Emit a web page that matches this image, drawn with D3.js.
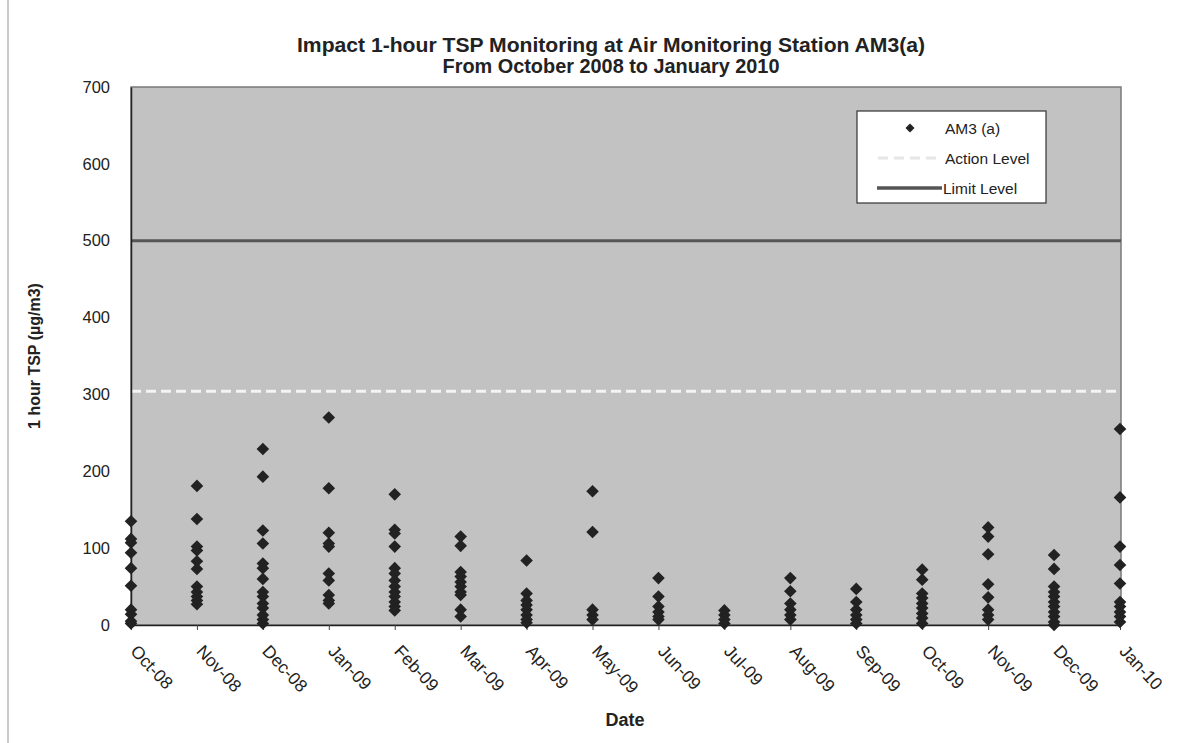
<!DOCTYPE html>
<html><head><meta charset="utf-8">
<script src="https://cdn.jsdelivr.net/npm/d3@7"></script>
<style>
html,body{margin:0;padding:0;background:#fff;}
svg{display:block;font-family:"Liberation Sans",Arial,sans-serif;}
</style></head>
<body>
<svg id="chart" width="1177" height="743"></svg>
<script>
const months = ["Oct-08","Nov-08","Dec-08","Jan-09","Feb-09","Mar-09","Apr-09","May-09","Jun-09","Jul-09","Aug-09","Sep-09","Oct-09","Nov-09","Dec-09","Jan-10"];
const readings = [
  [135,112,107,94,74,51,20,14,5,2],
  [181,138,102,97,83,73,50,43,37,32,27],
  [229,193,123,106,80,74,60,43,37,28,22,13,7,2],
  [270,178,120,106,102,67,58,39,32,28],
  [170,124,119,102,74,67,58,50,43,37,30,24,19],
  [115,103,69,63,56,50,43,39,20,11],
  [84,41,32,26,20,13,7,3],
  [174,121,20,13,7],
  [61,37,24,17,11,7],
  [19,13,7,2],
  [61,44,28,20,13,7],
  [47,30,20,13,7,2],
  [72,59,41,35,28,22,15,9,2],
  [127,115,92,53,36,20,13,7],
  [91,73,50,43,37,30,24,17,11,4,0],
  [255,166,102,78,54,30,24,17,11,4]
];
const yTicks = [0,100,200,300,400,500,600,700];
const actionLevel = 304;
const limitLevel = 500;
const titleLines = ["Impact 1-hour TSP Monitoring at Air Monitoring Station AM3(a)","From October 2008 to January 2010"];
const legendLabels = ["AM3 (a)","Action Level","Limit Level"];

const svg = d3.select("#chart");
const L = 131, R = 1121, T = 87, B = 625;

// page border line on left
svg.append("line").attr("x1",8).attr("x2",8).attr("y1",0).attr("y2",743).attr("stroke","#999").attr("stroke-width",1);

const x = d3.scalePoint().domain(months).range([L, R - 1]).padding(0);
const y = d3.scaleLinear().domain([0,700]).range([B, T]);

// plot area
svg.append("rect").attr("x",L).attr("y",T).attr("width",R-L).attr("height",B-T)
  .attr("fill","#c2c2c2").attr("stroke","#7a7a7a").attr("stroke-width",1.5);

// limit & action lines
svg.append("line").attr("x1",L).attr("x2",R).attr("y1",y(limitLevel)).attr("y2",y(limitLevel))
  .attr("stroke","#555").attr("stroke-width",3);
svg.append("line").attr("x1",L).attr("x2",R).attr("y1",y(actionLevel)).attr("y2",y(actionLevel))
  .attr("stroke","#f4f4f4").attr("stroke-width",3).attr("stroke-dasharray","10,5");

// y axis
const yAxis = svg.append("g").attr("transform",`translate(${L},0)`)
  .call(d3.axisLeft(y).tickValues(yTicks).tickSize(0).tickPadding(21).tickFormat(d3.format("d")));
yAxis.select(".domain").attr("stroke","#222").attr("stroke-width",1.5);
yAxis.selectAll("text").attr("font-size",16.5).attr("fill","#222");

// x axis
const xAxis = svg.append("g").attr("transform",`translate(0,${B})`)
  .call(d3.axisBottom(x).tickSize(5).tickSizeOuter(0));
xAxis.select(".domain").attr("stroke","#222").attr("stroke-width",1.5);
xAxis.selectAll(".tick line").attr("stroke","#444");
xAxis.selectAll("text").attr("font-size",17.5).attr("fill","#222")
  .attr("text-anchor","start").attr("dy",0).attr("y",0)
  .attr("transform","translate(-2,27) rotate(47)");

// points (square diamonds)
const pts = [];
readings.forEach((arr,i)=>arr.forEach(v=>pts.push({m:months[i],v})));
const dia = s => `M0,${-s}L${s},0L0,${s}L${-s},0Z`;
svg.append("g").selectAll("path").data(pts).join("path")
  .attr("d",dia(6.3)).attr("transform",d=>`translate(${x(d.m)},${y(d.v)})`)
  .attr("fill","#222");

// title
const titleWidths = [628, 337];
svg.append("g").selectAll("text").data(titleLines).join("text")
  .attr("x",611).attr("y",(d,i)=>52+i*21).attr("text-anchor","middle")
  .attr("font-size",20).attr("font-weight","bold").attr("fill","#222")
  .attr("textLength",(d,i)=>titleWidths[i]).attr("lengthAdjust","spacingAndGlyphs").text(d=>d);

// axis titles
svg.append("text").attr("transform","translate(40,356) rotate(-90)").attr("text-anchor","middle")
  .attr("font-size",16).attr("font-weight","bold").attr("fill","#222").text("1 hour TSP (µg/m3)");
svg.append("text").attr("x",625).attr("y",726).attr("text-anchor","middle")
  .attr("font-size",18).attr("font-weight","bold").attr("fill","#222").text("Date");

// legend
const lg = svg.append("g");
lg.append("rect").attr("x",857).attr("y",111).attr("width",189).attr("height",92)
  .attr("fill","#fff").attr("stroke","#333").attr("stroke-width",1.2);
lg.append("path").attr("d",dia(4.5)).attr("transform","translate(910,128)").attr("fill","#222");
lg.append("line").attr("x1",878).attr("x2",942).attr("y1",158).attr("y2",158)
  .attr("stroke","#e6e6e6").attr("stroke-width",3).attr("stroke-dasharray","10,6");
lg.append("line").attr("x1",877).attr("x2",942).attr("y1",188).attr("y2",188)
  .attr("stroke","#555").attr("stroke-width",3.5);
lg.selectAll("text.lt").data(legendLabels).join("text").attr("class","lt")
  .attr("x",(d,i)=> i===2 ? 943 : 945).attr("y",(d,i)=>134+i*30)
  .attr("font-size",15.5).attr("fill","#222").text(d=>d);
</script>
</body></html>
